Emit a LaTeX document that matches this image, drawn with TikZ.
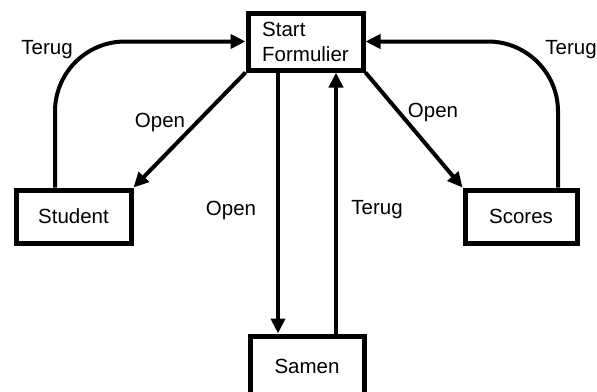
\documentclass[tikz,border=0pt]{standalone}
\usepackage{fontspec}
\setmainfont{Liberation Sans}
\usetikzlibrary{arrows.meta}
\tikzset{
  box/.style={draw=black, line width=5pt, minimum width=115pt, minimum height=53pt,
              inner sep=0pt, align=left, font=\fontsize{20.5}{25}\selectfont},
  arr/.style={draw=black, line width=4pt, -{Triangle[length=15pt,width=14pt]}},
  lbl/.style={inner sep=0pt, font=\fontsize{20.5}{25}\selectfont}
}
\begin{document}
\begin{tikzpicture}[x=1pt,y=-1pt]
  \useasboundingbox (0,0) rectangle (597,391);
  \clip (0,0) rectangle (597,391);

  % boxes
  \node[box, minimum height=57pt] (start) at (305.5,41.5) {Start\\Formulier};
  \node[box] (student) at (73.5,216.5) {Student};
  \node[box, minimum width=112pt] (scores) at (521,216.5) {Scores};
  \node[box, minimum width=114pt, minimum height=62pt] (samen) at (307,367) {\raisebox{2pt}{Samen}};

  % straight connectors
  \draw[arr] (start.south west) -- (student.north east);
  \draw[arr] (start.south east) -- (scores.north west);
  \draw[arr] ([xshift=-27.5pt]start.south) -- ([xshift=-27.5pt]start.south |- samen.north);
  \draw[arr] ([xshift=30.5pt]start.south |- samen.north) -- ([xshift=30.5pt]start.south);

  % return loops
  \draw[arr, rounded corners=70pt] ([xshift=-18.5pt]student.north) |- (start.west);
  \draw[arr, rounded corners=70pt] ([xshift=37pt]scores.north) |- (start.east);

  % labels
  \node[lbl] (tl) at (47,50) {Terug};
  \node[lbl] (tr) at (571,50) {Terug};
  \node[lbl] (ol) at (160,122) {Open};
  \node[lbl] (or) at (433,112) {Open};
  \node[lbl] (om) at (231,210) {Open};
  \node[lbl] (tm) at (377,210) {Terug};
\end{tikzpicture}
\end{document}
